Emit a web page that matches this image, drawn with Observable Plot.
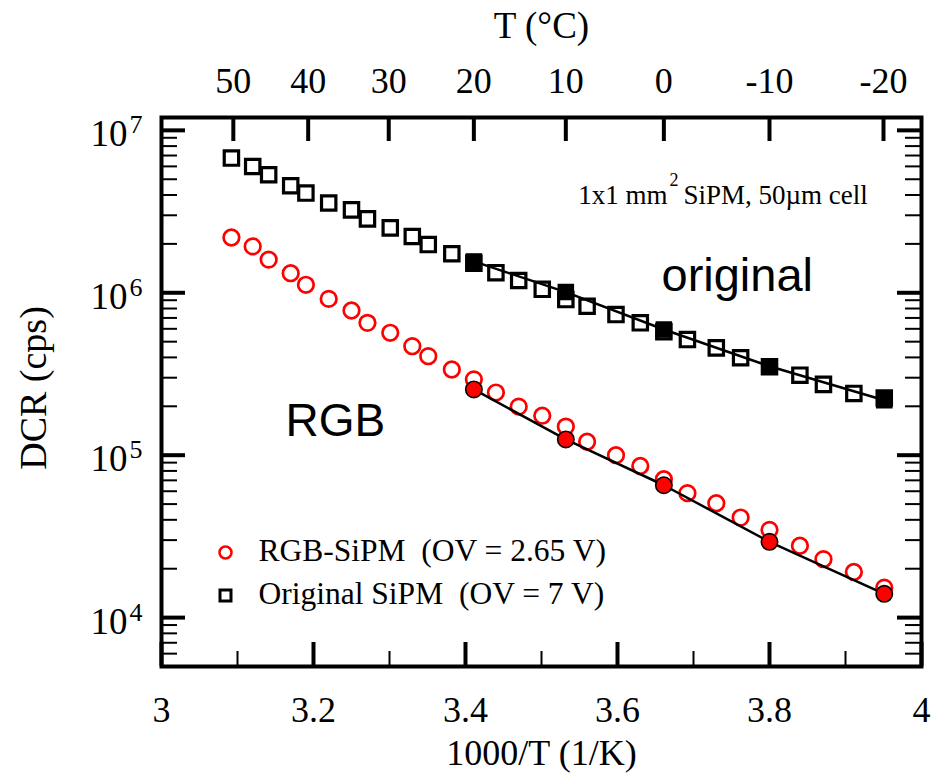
<!DOCTYPE html>
<html><head><meta charset="utf-8">
<script src="https://cdn.jsdelivr.net/npm/d3@7"></script>
<script src="https://cdn.jsdelivr.net/npm/@observablehq/plot@0.6"></script>
<style>body{margin:0;background:#fff}svg{display:block}</style>
</head><body><div id="chart"></div>
<script>
// 1000/T (1/K) of each measurement
const invT = [3.092, 3.120, 3.141, 3.170, 3.190, 3.220, 3.250, 3.271, 3.301, 3.330, 3.351, 3.382, 3.411, 3.440, 3.470, 3.501, 3.532, 3.560, 3.598, 3.630, 3.661, 3.692, 3.730, 3.762, 3.800, 3.840, 3.871, 3.911, 3.951];
// DCR (cps), open markers
const rgbDCR = [2.19e6, 1.93e6, 1.60e6, 1.32e6, 1.12e6, 9.17e5, 7.78e5, 6.53e5, 5.67e5, 4.69e5, 4.07e5, 3.37e5, 2.93e5, 2.43e5, 1.99e5, 1.75e5, 1.50e5, 1.21e5, 1.00e5, 8.58e4, 7.11e4, 5.84e4, 5.06e4, 4.13e4, 3.47e4, 2.77e4, 2.29e4, 1.91e4, 1.53e4];
const origDCR = [6.75e6, 5.99e6, 5.33e6, 4.56e6, 4.11e6, 3.57e6, 3.24e6, 2.85e6, 2.51e6, 2.22e6, 1.98e6, 1.74e6, 1.52e6, 1.33e6, 1.19e6, 1.05e6, 9.08e5, 8.26e5, 7.34e5, 6.53e5, 5.75e5, 5.15e5, 4.58e5, 3.98e5, 3.50e5, 3.11e5, 2.73e5, 2.40e5, 2.25e5];
// filled markers + fit lines
const fitInvT = [3.411, 3.532, 3.661, 3.800, 3.951];
const rgbFit = [2.54e5, 1.25e5, 6.53e4, 2.93e4, 1.40e4];
const origFit = [1.56e6, 1.01e6, 5.94e5, 3.53e5, 2.18e5];
// axes
const xMajor = [3, 3.2, 3.4, 3.6, 3.8, 4];
const xMajorLabels = ["3", "3.2", "3.4", "3.6", "3.8", "4"];
const xMinor = [3.1, 3.3, 3.5, 3.7, 3.9];
const topTicks = [3.0945, 3.193, 3.299, 3.411, 3.532, 3.661, 3.800, 3.950];
const topLabels = ["50", "40", "30", "20", "10", "0", "-10", "-20"];
const yMajor = [1e4, 1e5, 1e6, 1e7];
const yExponents = ["4", "5", "6", "7"];
const yMinorMantissa = [2, 3, 4, 5, 6, 7, 8, 9];
const yMinorDecades = [1e3, 1e4, 1e5, 1e6];

const yMinor = [];
for (const d of yMinorDecades) for (const m of yMinorMantissa) { const v = m * d; if (v >= 5e3 && v <= 1.2e7) yMinor.push(v); }

const rgbOpen = invT.map((x, i) => ({x, y: rgbDCR[i]}));
const origOpen = invT.map((x, i) => ({x, y: origDCR[i]}));
const rgbFilled = fitInvT.map((x, i) => ({x, y: rgbFit[i]}));
const origFilled = fitInvT.map((x, i) => ({x, y: origFit[i]}));

const W = 933, H = 776, mL = 161, mR = 12, mT = 117, mB = 110;
const PW = W - mL - mR, PH = H - mT - mB;
const serif = "Liberation Serif, Times New Roman, serif";
const sans = "Liberation Sans, Arial, sans-serif";
const RED = "#ff0000";

const chart = Plot.plot({
  width: W, height: H,
  marginLeft: mL, marginRight: mR, marginTop: mT, marginBottom: mB,
  x: {domain: [3, 4], axis: null},
  y: {type: "log", domain: [5e3, 1.2e7], axis: null},
  style: {fontFamily: serif, background: "#fff"},
  marks: [
    // ticks (inward)
    Plot.tickX(xMajor, {x: d => d, insetTop: PH - 24, strokeWidth: 4, stroke: "black"}),
    Plot.tickX(xMinor, {x: d => d, insetTop: PH - 15, strokeWidth: 2, stroke: "black"}),
    Plot.tickX(topTicks, {x: d => d, insetBottom: PH - 24, strokeWidth: 4, stroke: "black"}),
    Plot.tickY(yMajor, {y: d => d, insetRight: PW - 24, strokeWidth: 4, stroke: "black"}),
    Plot.tickY(yMinor, {y: d => d, insetRight: PW - 16, strokeWidth: 2, stroke: "black"}),
    Plot.tickY(yMajor, {y: d => d, insetLeft: PW - 24, strokeWidth: 4, stroke: "black"}),
    Plot.tickY(yMinor, {y: d => d, insetLeft: PW - 16, strokeWidth: 2, stroke: "black"}),
    Plot.frame({stroke: "black", strokeWidth: 4}),
    // tick labels
    Plot.text(xMajor, {x: d => d, text: (d, i) => xMajorLabels[i], frameAnchor: "bottom", textAnchor: "middle", lineAnchor: "bottom", dy: 55, fontSize: 36, fontFamily: serif, fill: "black"}),
    Plot.text(topTicks, {x: d => d, text: (d, i) => topLabels[i], frameAnchor: "top", textAnchor: "middle", lineAnchor: "bottom", dy: -25, fontSize: 36, fontFamily: serif, fill: "black"}),
    Plot.text(yMajor, {y: d => d, text: () => "10", frameAnchor: "left", textAnchor: "end", lineAnchor: "bottom", dx: -34, dy: 16, fontSize: 37, fontFamily: serif, fill: "black"}),
    Plot.text(yMajor, {y: d => d, text: (d, i) => yExponents[i], frameAnchor: "left", textAnchor: "start", lineAnchor: "bottom", dx: -32, dy: 3, fontSize: 26, fontFamily: serif, fill: "black"}),
    // axis titles
    Plot.text(["1000/T (1/K)"], {text: d => d, frameAnchor: "bottom", textAnchor: "middle", lineAnchor: "bottom", dy: 98, fontSize: 36, fontFamily: serif, fill: "black"}),
    Plot.text(["T (°C)"], {text: d => d, frameAnchor: "top", textAnchor: "middle", lineAnchor: "bottom", dy: -80, fontSize: 37, fontFamily: serif, fill: "black"}),
    Plot.text(["DCR (cps)"], {text: d => d, frameAnchor: "left", textAnchor: "middle", lineAnchor: "middle", rotate: -90, dx: -128, dy: -4, fontSize: 38, fontFamily: serif, fill: "black"}),
    // data: open markers
    Plot.dot(origOpen, {x: "x", y: "y", symbol: "square", r: 8.1, fill: "none", stroke: "black", strokeWidth: 3.2}),
    Plot.dot(rgbOpen, {x: "x", y: "y", symbol: "circle", r: 7.8, fill: "none", stroke: RED, strokeWidth: 2.7}),
    // fit lines
    Plot.line(origFilled, {x: "x", y: "y", stroke: "black", strokeWidth: 2.5}),
    Plot.line(rgbFilled, {x: "x", y: "y", stroke: "black", strokeWidth: 2.5}),
    // filled markers
    Plot.dot(origFilled, {x: "x", y: "y", symbol: "square", r: 8.5, fill: "black", stroke: "black", strokeWidth: 1.5}),
    Plot.dot(rgbFilled, {x: "x", y: "y", symbol: "circle", r: 8.2, fill: RED, stroke: "black", strokeWidth: 1.6}),
    // annotations
    Plot.text(["original"], {text: d => d, frameAnchor: "top-left", textAnchor: "start", lineAnchor: "bottom", dx: 500, dy: 173, fontSize: 47, fontFamily: sans, fill: "black"}),
    Plot.text(["RGB"], {text: d => d, frameAnchor: "top-left", textAnchor: "start", lineAnchor: "bottom", dx: 124, dy: 318, fontSize: 46, fontFamily: sans, fill: "black"}),
    Plot.text(["1x1 mm"], {text: d => d, frameAnchor: "top-left", textAnchor: "end", lineAnchor: "bottom", dx: 506, dy: 86, fontSize: 27, fontFamily: serif, fill: "black"}),
    Plot.text(["2"], {text: d => d, frameAnchor: "top-left", textAnchor: "start", lineAnchor: "bottom", dx: 508, dy: 68, fontSize: 18, fontFamily: serif, fill: "black"}),
    Plot.text(["SiPM, 50µm cell"], {text: d => d, frameAnchor: "top-left", textAnchor: "start", lineAnchor: "bottom", dx: 522, dy: 86, fontSize: 27, fontFamily: serif, fill: "black"}),
    // legend
    Plot.dot([0], {frameAnchor: "top-left", dx: 64, dy: 435, symbol: "circle", r: 6, fill: "none", stroke: RED, strokeWidth: 2.5}),
    Plot.dot([0], {frameAnchor: "top-left", dx: 64, dy: 478, symbol: "square", r: 6.2, fill: "none", stroke: "black", strokeWidth: 3}),
    Plot.text(["RGB-SiPM  (OV = 2.65 V)"], {text: d => d, frameAnchor: "top-left", textAnchor: "start", lineAnchor: "bottom", dx: 97, dy: 443, fontSize: 31.5, fontFamily: serif, fill: "black"}),
    Plot.text(["Original SiPM  (OV = 7 V)"], {text: d => d, frameAnchor: "top-left", textAnchor: "start", lineAnchor: "bottom", dx: 97, dy: 486, fontSize: 31.5, fontFamily: serif, fill: "black"})
  ]
});
document.getElementById("chart").appendChild(chart);
</script>
</body></html>
